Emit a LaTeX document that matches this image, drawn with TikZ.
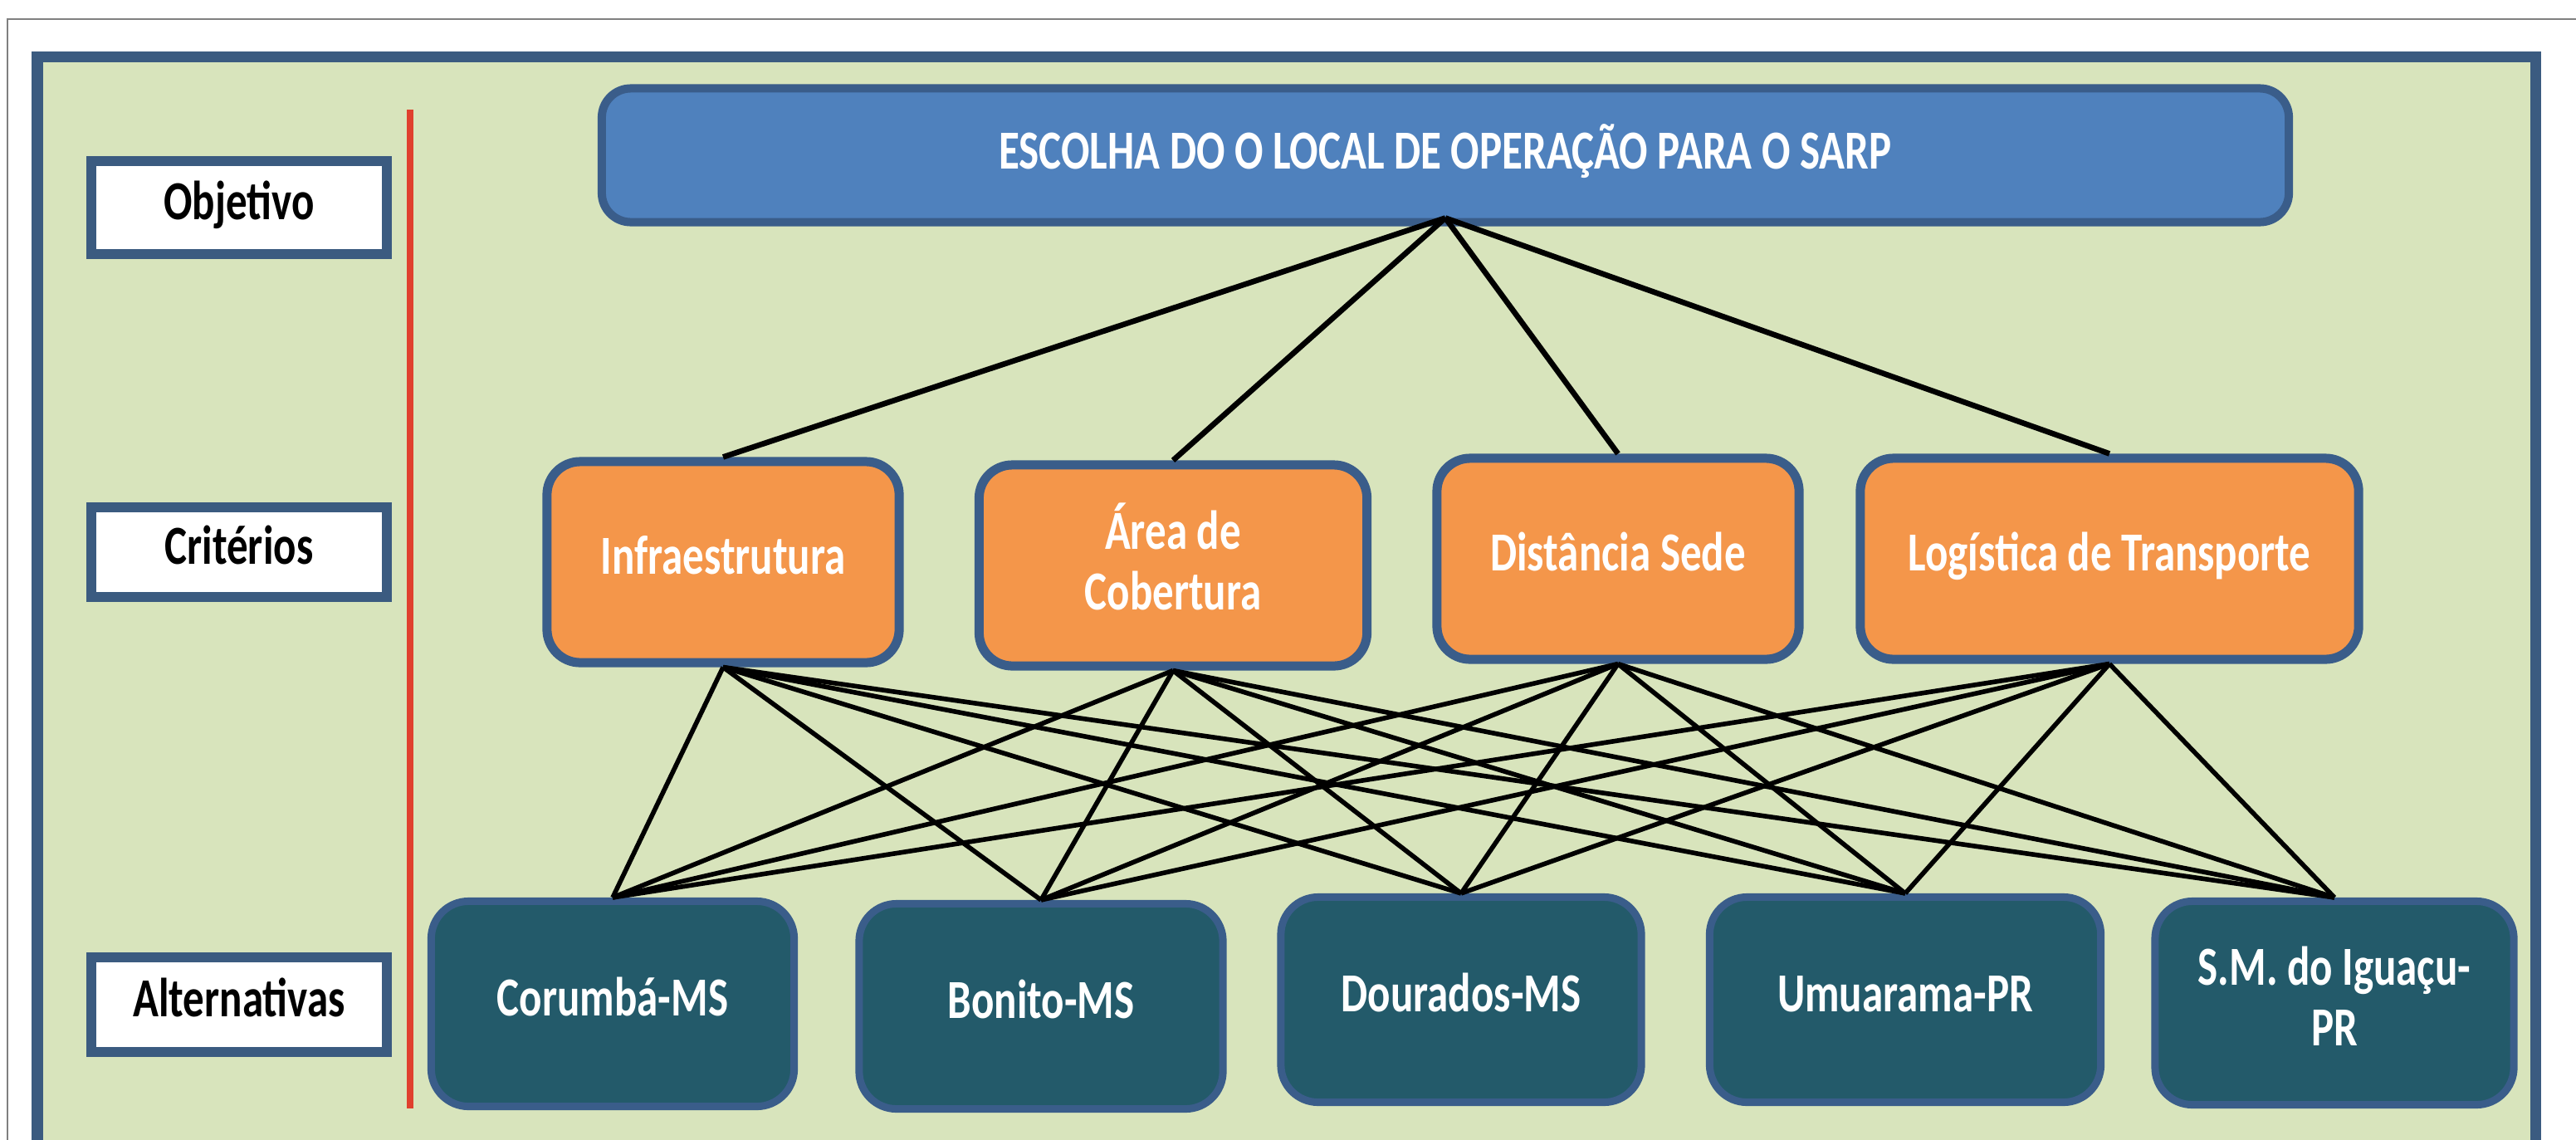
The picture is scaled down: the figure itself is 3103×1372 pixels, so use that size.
\documentclass[tikz,border=0pt]{standalone}
\usepackage{fontspec}
\setmainfont{Carlito}
\usepackage{graphicx}
\definecolor{bggreen}{HTML}{D8E4BC}
\definecolor{panelblue}{HTML}{3B5B80}
\definecolor{boxblue}{HTML}{3A5D8A}
\definecolor{topfill}{HTML}{4F81BD}
\definecolor{orangefill}{HTML}{F4964A}
\definecolor{tealfill}{HTML}{235A6A}
\definecolor{redline}{HTML}{E0402E}
\newcommand{\stt}[1]{\scalebox{1}[1.3]{\begin{tabular}{@{}c@{}}#1\end{tabular}}}
\tikzset{
  txt/.style={font=\bfseries\fontsize{14.5}{16}\selectfont, inner sep=0pt, align=center},
  lbl/.style={txt, draw=panelblue, line width=0.12cm, fill=white, text=black, minimum width=3.55cm},
  topbox/.style={txt, draw=boxblue, fill=topfill, line width=0.1cm, rounded corners=0.35cm, text=white},
  crit/.style={txt, draw=boxblue, fill=orangefill, line width=0.11cm, rounded corners=0.4cm, text=white, minimum height=2.42cm},
  alt/.style={txt, draw=boxblue, fill=tealfill, line width=0.09cm, rounded corners=0.45cm, text=white, minimum height=2.47cm},
  link/.style={black, line width=1.6pt},
  toplink/.style={black, line width=1.9pt}
}
\begin{document}
\begin{tikzpicture}[x=0.01cm, y=-0.01cm]
\useasboundingbox (0,0) rectangle (3103,1372);
\clip (0,0) rectangle (3103,1372);
\fill[white] (0,0) rectangle (3103,1372);
% outer gray frame
\draw[gray, line width=0.6pt] (9,1400) -- (9,23) -- (3110,23);
% panel
\draw[panelblue, line width=0.13cm, fill=bggreen] (45,68) rectangle (3054,1420);
% red separator
\draw[redline, line width=0.08cm] (494,132) -- (494,1335);
% level labels
\node[lbl, minimum height=1.12cm] (obj) at (288,250) {\stt{Objetivo}};
\node[lbl, minimum height=1.08cm] (cri) at (288,665) {\stt{Critérios}};
\node[lbl, minimum height=1.13cm] (alts) at (288,1210) {\stt{Alternativas}};
% goal
\node[topbox, minimum width=20.31cm, minimum height=1.61cm] (goal) at (1741,187) {\raisebox{0.12cm}{\stt{ESCOLHA DO O LOCAL DE OPERAÇÃO PARA O SARP}}};
% criteria
\node[crit, minimum width=4.24cm] (c1) at (871,677) {\stt{Infraestrutura}};
\node[crit, minimum width=4.67cm] (c2) at (1413,681) {\stt{Área de\\Cobertura}};
\node[crit, minimum width=4.36cm] (c3) at (1949,673) {\stt{Distância Sede}};
\node[crit, minimum width=6.00cm] (c4) at (2541,673) {\stt{Logística de Transporte}};
% alternatives
\node[alt, minimum width=4.37cm] (a1) at (738,1209) {\stt{Corumbá-MS}};
\node[alt, minimum width=4.38cm] (a2) at (1254,1212) {\stt{Bonito-MS}};
\node[alt, minimum width=4.34cm] (a3) at (1760,1204) {\stt{Dourados-MS}};
\node[alt, minimum width=4.71cm] (a4) at (2295,1204) {\stt{Umuarama-PR}};
\node[alt, minimum width=4.32cm, minimum height=2.45cm] (a5) at (2812,1208) {\stt{S.M. do Iguaçu-\\PR}};
% connectors goal -> criteria
\foreach \c in {c1,c2,c3,c4} {
  \draw[toplink] ([yshift=0.1cm]goal.south) -- (\c.north);
}
% connectors criteria -> alternatives
\foreach \c in {c1,c2,c3,c4} {
  \foreach \a in {a1,a2,a3,a4,a5} {
    \draw[link] (\c.south) -- (\a.north);
  }
}
\end{tikzpicture}
\end{document}
